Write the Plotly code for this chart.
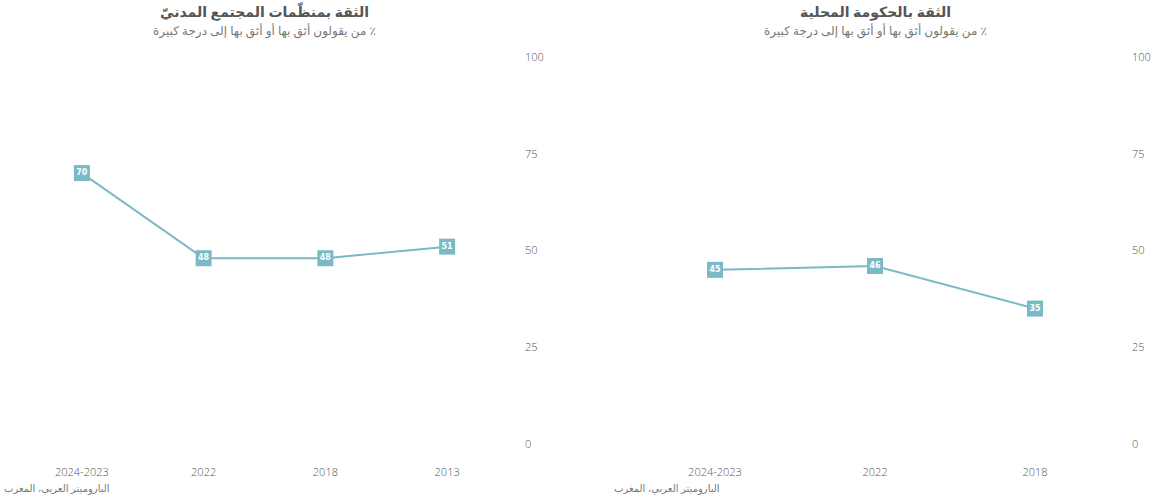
import plotly.graph_objects as go

# Trust in civil society organisations (left panel)
civil_years = ["2024-2023", "2022", "2018", "2013"]
civil_values = [70, 48, 48, 51]

# Trust in local government (right panel)
local_years = ["2024-2023", "2022", "2018"]
local_values = [45, 46, 35]

y_ticks = [0, 25, 50, 75, 100]

titles = ["الثقة بمنظّمات المجتمع المدنيّ", "الثقة بالحكومة المحلية"]
subtitle = "\u200f٪ من يقولون أثق بها أو أثق بها إلى درجة كبيرة"
source = "الباروميتر العربي، المغرب"

W, H = 1156, 502
color = "#7ab9c6"
font_family = "Noto Sans, DejaVu Sans, sans-serif"
tick_family = "Open Sans, Noto Sans, sans-serif"

fig = go.Figure()


def add_series(x, y, xa, ya):
    fig.add_trace(go.Scatter(
        x=x, y=y, xaxis=xa, yaxis=ya,
        mode="lines+markers+text",
        line=dict(color=color, width=2),
        marker=dict(symbol="square", size=16, color=color),
        text=[str(v) for v in y],
        textposition="middle center",
        textfont=dict(color="white", size=8, family="DejaVu Sans, sans-serif", weight="bold"),
        hoverinfo="x+y", showlegend=False, cliponaxis=False,
    ))


add_series(civil_years, civil_values, "x", "y")
add_series(local_years, local_values, "x2", "y2")

px = lambda v: v / W
dom1 = [px(21), px(508)]
dom2 = [px(635), px(1115)]
ydom = [(H - 444) / H, (H - 57) / H]

xcommon = dict(showgrid=False, zeroline=False, showline=False, ticks="",
               tickfont=dict(size=11, color="#555", family=tick_family, weight=300),
               ticklabelstandoff=20, fixedrange=True, automargin=False)
ycommon = dict(range=[0, 100], tickvals=y_ticks, showgrid=False, zeroline=False,
               showline=False, ticks="", side="right",
               tickfont=dict(size=11, color="#555", family=tick_family, weight=300),
               ticklabelstandoff=16, fixedrange=True, automargin=False)

fig.update_layout(
    width=W, height=H,
    margin=dict(l=0, r=0, t=0, b=0, autoexpand=False),
    paper_bgcolor="white", plot_bgcolor="white",
    xaxis=dict(domain=dom1, anchor="y", range=[-0.5, 3.5], **xcommon),
    xaxis2=dict(domain=dom2, anchor="y2", range=[-0.5, 2.5], **xcommon),
    yaxis=dict(domain=ydom, anchor="x", **ycommon),
    yaxis2=dict(domain=ydom, anchor="x2", **ycommon),
)

annotations = []
for dom, title in zip([dom1, dom2], titles):
    cx = (dom[0] + dom[1]) / 2
    annotations.append(dict(x=cx, y=1 - 12 / H, xref="paper", yref="paper",
                            text=f"<b>{title}</b>", showarrow=False,
                            font=dict(size=14, color="#555", family=font_family),
                            xanchor="center", yanchor="middle"))
    annotations.append(dict(x=cx, y=1 - 31 / H, xref="paper", yref="paper",
                            text=subtitle, showarrow=False,
                            font=dict(size=12, color="#777", family=font_family),
                            xanchor="center", yanchor="middle"))
for right_edge in [112, 722]:
    annotations.append(dict(x=px(right_edge), y=1 - 488 / H, xref="paper", yref="paper",
                            text=source, showarrow=False,
                            font=dict(size=10, color="#777", family=font_family),
                            xanchor="right", yanchor="middle"))
fig.update_layout(annotations=annotations)

fig.write_html("out.html")
